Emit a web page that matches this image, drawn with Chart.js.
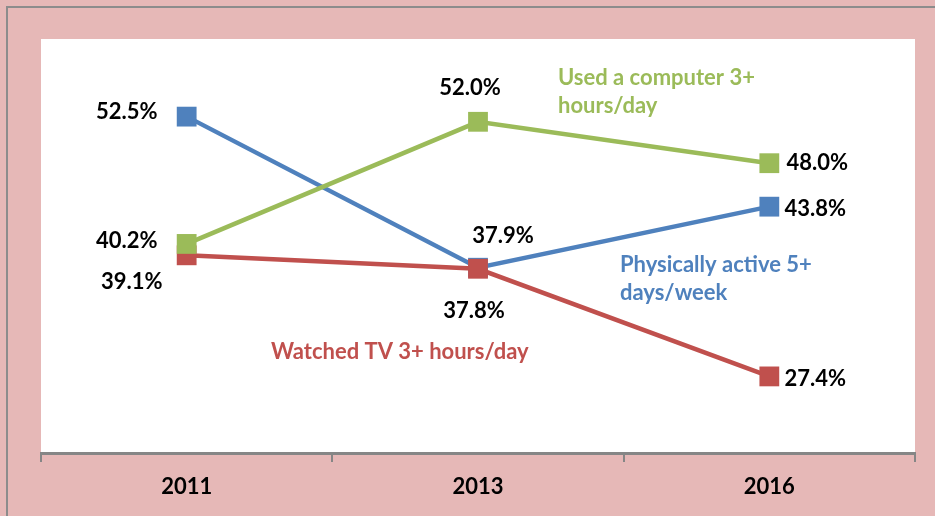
<!DOCTYPE html>
<html>
<head>
<meta charset="utf-8">
<script src="https://cdn.jsdelivr.net/npm/chart.js@4"></script>
<style>
  html, body { margin:0; padding:0; background:#e6b8b7; }
  #wrap { width:935px; height:516px; position:relative; }
</style>
</head>
<body>
<div id="wrap"><canvas id="chart" width="935" height="516"></canvas></div>
<script>
const years    = ["2011", "2013", "2016"];
const active   = [52.5, 37.9, 43.8];   // Physically active 5+ days/week
const computer = [40.2, 52.0, 48.0];   // Used a computer 3+ hours/day
const tv       = [39.1, 37.8, 27.4];   // Watched TV 3+ hours/day

const BLUE = "#4f81bd", GREEN = "#9bbb59", RED = "#c0504d";
const PINK = "#e6b8b7", AXIS = "#868686";
const FONT = "Lato, 'Open Sans', sans-serif";

// offsets of the value labels from their point (px)
const labelOffsets = {
  active:   [[-60, -5], [25, -32], [46, 2]],
  computer: [[-60, -3], [-8, -34], [48, 0]],
  tv:       [[-55, 27], [-4, 42], [46, 2]]
};

// series names written in the plot
const seriesNotes = [
  { lines: ["Used a computer 3+", "hours/day"], color: GREEN, x: 558, y: 78 },
  { lines: ["Physically active 5+", "days/week"], color: BLUE, x: 620, y: 265 },
  { lines: ["Watched TV 3+ hours/day"], color: RED, x: 271, y: 352 }
];

const bgPlugin = {
  id: "bg",
  beforeDraw(c){
    const ctx = c.ctx, a = c.chartArea;
    ctx.save();
    ctx.fillStyle = PINK;
    ctx.fillRect(0, 0, c.width, c.height);
    ctx.fillStyle = "#8c8c8c";
    ctx.fillRect(6, 6, c.width - 6, 2);
    ctx.fillRect(6, 6, 2, c.height - 6);
    ctx.fillStyle = "#ffffff";
    ctx.fillRect(a.left, a.top, a.right - a.left, a.bottom - a.top);
    ctx.restore();
  }
};

const labelPlugin = {
  id: "labels",
  afterDatasetsDraw(c){
    const ctx = c.ctx;
    ctx.save();
    ctx.textAlign = "center";
    ctx.textBaseline = "middle";
    ctx.font = "bold 22px " + FONT;
    ctx.fillStyle = "#000";
    c.data.datasets.forEach((ds, i) => {
      const meta = c.getDatasetMeta(i);
      meta.data.forEach((pt, j) => {
        const off = labelOffsets[ds.key][j];
        ctx.fillText(ds.data[j].toFixed(1) + "%", pt.x + off[0], pt.y + off[1]);
      });
    });
    ctx.textAlign = "left";
    ctx.font = "bold 22px " + FONT;
    seriesNotes.forEach(n => {
      ctx.fillStyle = n.color;
      n.lines.forEach((t, k) => ctx.fillText(t, n.x, n.y + k * 28));
    });
    ctx.restore();
  }
};

function line(key, label, data, color){
  return {
    key, label, data,
    borderColor: color, backgroundColor: color,
    borderWidth: 4.5,
    pointStyle: "rect", pointRadius: 14, pointHoverRadius: 14,
    pointBorderWidth: 0,
    tension: 0
  };
}

new Chart(document.getElementById("chart"), {
  type: "line",
  data: {
    labels: years,
    datasets: [
      line("computer", "Used a computer 3+ hours/day", computer, GREEN),
      line("tv", "Watched TV 3+ hours/day", tv, RED),
      line("active", "Physically active 5+ days/week", active, BLUE)
    ]
  },
  options: {
    responsive: false,
    animation: false,
    layout: { padding: { left: 41, right: 20, top: 39, bottom: 0 } },
    plugins: { legend: { display: false }, tooltip: { enabled: false } },
    scales: {
      x: {
        offset: true,
        grid: { offset: true, drawOnChartArea: false, drawTicks: true, tickLength: 9, color: AXIS, lineWidth: 2 },
        border: { display: true, color: AXIS, width: 3 },
        ticks: { color: "#000", font: { family: FONT, size: 22, weight: "bold" }, padding: 12 },
        afterFit(s){ s.height = 63; }
      },
      y: { display: false, min: 20, max: 60 }
    }
  },
  plugins: [bgPlugin, labelPlugin]
});
</script>
</body>
</html>
